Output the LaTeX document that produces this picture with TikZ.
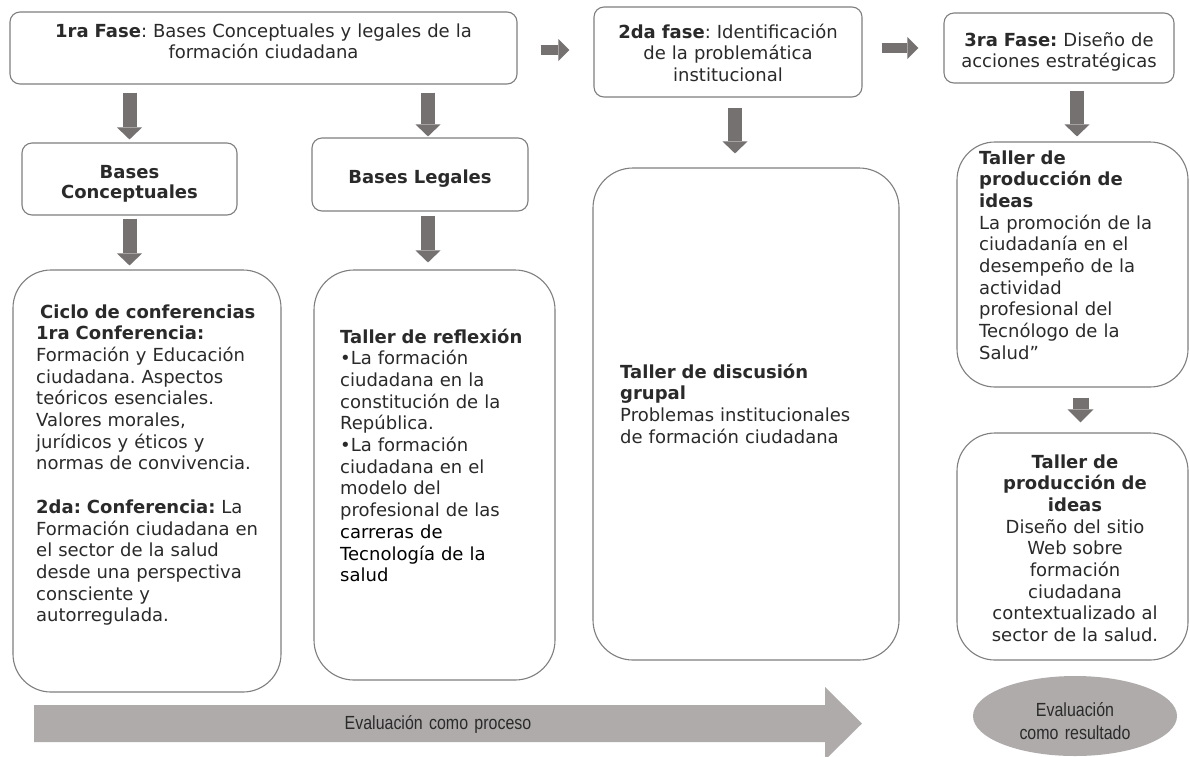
\documentclass[tikz,border=0pt]{standalone}
\usepackage{fontspec}
\setmainfont{DejaVu Sans}
\newfontfamily\narrowfont[FakeStretch=0.84]{Liberation Sans}
\usetikzlibrary{arrows.meta,shapes.geometric}
\definecolor{boxgray}{HTML}{7F7F7F}
\definecolor{arrowgray}{HTML}{767171}
\definecolor{evalgray}{HTML}{AFABAB}
\definecolor{textc}{HTML}{2A2A2A}
\frenchspacing
\begin{document}
\begin{tikzpicture}[x=1pt,y=-1pt,
 box/.style={draw=boxgray, line width=1.1pt, fill=white, rounded corners=10pt, inner sep=0pt},
 bigbox/.style={box, rounded corners=38pt},
 darrow/.style={draw=arrowgray, line width=14pt, -{Triangle[width=25pt 0 1,length=12pt 0 1,line width=0pt]}},
 harrow/.style={draw=arrowgray, line width=10pt, -{Triangle[width=22pt 0 1,length=11pt 0 1,line width=0pt]}},
 ltxt/.style={inner sep=0pt, anchor=base west, text width=#1, align=left, text=textc, font=\fontsize{18}{21.7}\selectfont},
 ctxt/.style={inner sep=0pt, anchor=base, text width=#1, align=center, text=textc, font=\fontsize{18}{21.7}\selectfont},
 evtxt/.style={inner sep=0pt, anchor=base, text width=#1, align=center, text=textc, font=\narrowfont\fontsize{19}{23}\selectfont},
]
\useasboundingbox (0,0) rectangle (1190,756);
\fill[white] (0,0) rectangle (1190,756);

% top row
\node[box, minimum width=507pt, minimum height=72pt] (b1) at (263.5,48) {};
\node[ctxt=500pt] (t1) at (263.5,37) {\textbf{1ra Fase}: Bases Conceptuales y legales de la\\formación ciudadana};
\node[box, minimum width=268pt, minimum height=90pt] (b2) at (728,52) {};
\node[ctxt=260pt] (t2) at (728,38) {\textbf{2da fase}: Identificación\\de la problemática\\institucional};
\node[box, minimum width=230pt, minimum height=70pt] (b3) at (1059,48) {};
\node[ctxt=225pt] (t3) at (1059,46) {\textbf{3ra Fase:} Diseño de\\acciones estratégicas};

% second row
\node[box, minimum width=215pt, minimum height=72pt] (bc) at (129.5,179) {};
\node[ctxt=205pt, font=\fontsize{18}{20}\selectfont\bfseries] (tc) at (129.5,178) {Bases\\Conceptuales};
\node[box, minimum width=216pt, minimum height=73pt] (bl) at (420,174.5) {};
\node[ctxt=205pt, font=\fontsize{18}{20}\selectfont\bfseries] (tl) at (420,183) {Bases Legales};

% tall boxes
\node[bigbox, minimum width=268pt, minimum height=422pt] (ciclo) at (147,481) {};
\node[ltxt=240pt] (tci) at (36,318) {\hspace*{4pt}\textbf{Ciclo de conferencias}\\
\textbf{1ra Conferencia:}\\
Formación y Educación\\
ciudadana. Aspectos\\
teóricos esenciales.\\
Valores morales,\\
jurídicos y éticos y\\
normas de convivencia.\\[21.7pt]
\textbf{2da: Conferencia:} La\\
Formación ciudadana en\\
el sector de la salud\\
desde una perspectiva\\
consciente y\\
autorregulada.};

\node[bigbox, rounded corners=40pt, minimum width=241pt, minimum height=410pt] (refl) at (434.5,475) {};
\node[ltxt=210pt] (tre) at (340,343) {\textbf{Taller de reflexión}\\
•La formación\\
ciudadana en la\\
constitución de la\\
República.\\
•La formación\\
ciudadana en el\\
modelo del\\
profesional de las\\
{\color{black}carreras de\\
Tecnología de la\\
salud}};

\node[bigbox, rounded corners=40pt, minimum width=306pt, minimum height=492pt] (disc) at (746,414) {};
\node[ltxt=270pt] (tdi) at (620,378) {\textbf{Taller de discusión}\\
\textbf{grupal}\\
Problemas institucionales\\
de formación ciudadana};

\node[bigbox, minimum width=231pt, minimum height=245pt] (prod1) at (1072.5,264.5) {};
\node[ltxt=205pt] (tp1) at (979,164) {\textbf{Taller de}\\
\textbf{producción de}\\
\textbf{ideas}\\
La promoción de la\\
ciudadanía en el\\
desempeño de la\\
actividad\\
profesional del\\
Tecnólogo de la\\
Salud”};

\node[bigbox, minimum width=231pt, minimum height=227pt] (prod2) at (1072.5,546.5) {};
\node[ctxt=222pt] (tp2) at (1075,468) {\textbf{Taller de}\\
\textbf{producción de}\\
\textbf{ideas}\\
Diseño del sitio\\
Web sobre\\
formación\\
ciudadana\\
contextualizado al\\
sector de la salud.};

% evaluation
\node[ellipse, fill=evalgray, draw=none, inner sep=0pt, minimum width=204pt, minimum height=80pt] (ev) at (1075,716) {};
\node[evtxt=200pt] (tev) at (1075,716.5) {Evaluación\\como resultado};
\fill[evalgray] (34,705) -- (825,705) -- (825,687) -- (862,723.5) -- (825,760) -- (825,742) -- (34,742) -- cycle;
\node[evtxt=300pt] (tpr) at (438,729.5) {Evaluación como proceso};

% connectors
\draw[darrow, shorten <=8pt, shorten >=3pt] (b1.south -| bc.north) -- (bc.north);
\draw[darrow, shorten <=8pt, shorten >=1pt] ([xshift=8pt]b1.south -| bl.north) -- ([xshift=8pt]bl.north);
\draw[darrow, shorten <=3pt, shorten >=4pt] (bc.south) -- (bc.south |- ciclo.north);
\draw[darrow, shorten <=4pt, shorten >=7pt] ([xshift=8pt]bl.south) -- ([xshift=8pt]bl.south |- refl.north);
\draw[darrow, shorten <=10pt, shorten >=14pt] ([xshift=7pt]b2.south) -- ([xshift=7pt]b2.south |- disc.north);
\draw[darrow, shorten <=7pt, shorten >=5pt] ([xshift=4.5pt]prod1.north |- b3.south) -- ([xshift=4.5pt]prod1.north);
\draw[darrow, line width=16pt, -{Triangle[width=26pt 0 1,length=13pt 0 1,line width=0pt]}, shorten <=10pt, shorten >=10pt] ([xshift=8pt]prod1.south) -- ([xshift=8pt]prod2.north);
\draw[harrow, shorten <=23pt, shorten >=24pt] ([yshift=-2pt]b1.east) -- ([yshift=-2pt]b1.east -| b2.west);
\draw[harrow, shorten <=19pt, shorten >=25pt] (b2.east |- b3.west) -- (b3.west);
\end{tikzpicture}
\end{document}
